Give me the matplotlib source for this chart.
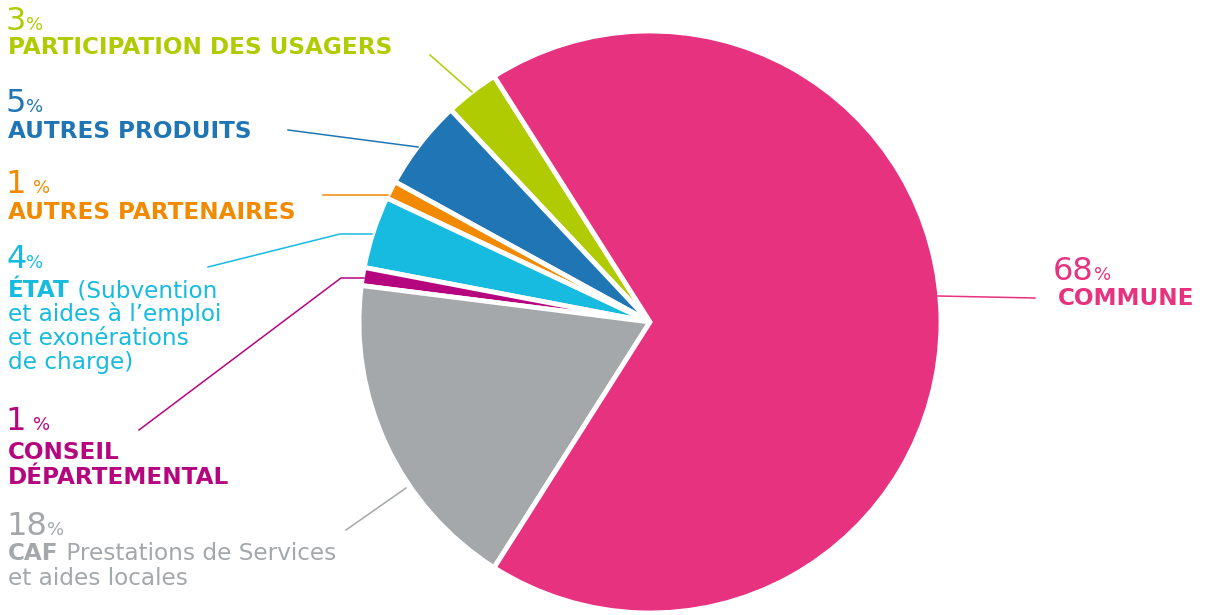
import matplotlib
matplotlib.use("Agg")
import matplotlib.pyplot as plt

# shares of the budget (percent), in drawing order counter-clockwise
categories = ["PARTICIPATION DES USAGERS", "AUTRES PRODUITS", "AUTRES PARTENAIRES",
              "ÉTAT", "CONSEIL DÉPARTEMENTAL", "CAF", "COMMUNE"]
values = [3, 5, 1, 4, 1, 18, 68]
colors = ["#b1cb02", "#2076b5", "#f28a00", "#17bbdf", "#b5057f", "#a4a8ab", "#e7327f"]

W, H = 1215, 615
fig = plt.figure(figsize=(W / 100, H / 100), dpi=100)
ax = fig.add_axes([0, 0, 1, 1])

ax.pie(values, colors=colors, startangle=122.4, counterclock=True,
       radius=291, center=(650, H - 322),
       wedgeprops=dict(edgecolor="white", linewidth=3.5))
ax.set_xlim(0, W)
ax.set_ylim(0, H)
ax.set_aspect("equal")
ax.axis("off")

renderer = fig.canvas.get_renderer()
FONT = "DejaVu Sans"
SZ = 16.7


def rich(x, ytop, parts, color):
    # parts: list of (text, weight, size) drawn one after the other on the same baseline
    y = H - ytop
    for txt, weight, size in parts:
        t = ax.text(x, y, txt, color=color, fontsize=size, fontweight=weight,
                    family=FONT, va="baseline", ha="left")
        bb = t.get_window_extent(renderer)
        x = bb.x1


def pct(x, ytop, num, color):
    rich(x, ytop, [(num, "normal", 23), ("%", "normal", 13)], color)


def line(pts, color):
    xs = [p[0] for p in pts]
    ys = [H - p[1] for p in pts]
    ax.plot(xs, ys, color=color, lw=1.1)


# participation des usagers
pct(6, 30, str(values[0]), colors[0])
rich(8, 54, [(categories[0], "bold", SZ)], colors[0])
line([(430, 55), (472, 92)], colors[0])

# autres produits
pct(6, 112, str(values[1]), colors[1])
rich(8, 138, [(categories[1], "bold", SZ)], colors[1])
line([(288, 130), (418, 147)], colors[1])

# autres partenaires
pct(6, 193, str(values[2]) + "\u2009", colors[2])
rich(8, 219, [(categories[2], "bold", SZ)], colors[2])
line([(323, 195), (388, 195)], colors[2])

# etat
pct(6, 268, str(values[3]), colors[3])
rich(8, 297, [(categories[3], "bold", SZ), (" (Subvention", "normal", SZ)], colors[3])
rich(8, 321, [("et aides à l’emploi", "normal", SZ)], colors[3])
rich(8, 345, [("et exonérations", "normal", SZ)], colors[3])
rich(8, 369, [("de charge)", "normal", SZ)], colors[3])
line([(208, 267), (340, 234), (372, 234)], colors[3])

# conseil departemental
pct(6, 430, str(values[4]) + "\u2009", colors[4])
rich(8, 459, [("CONSEIL", "bold", SZ)], colors[4])
rich(8, 484, [("DÉPARTEMENTAL", "bold", SZ)], colors[4])
line([(139, 430), (341, 278), (364, 278)], colors[4])

# caf
pct(6, 535, str(values[5]), colors[5])
rich(8, 560, [(categories[5], "bold", SZ), (" Prestations de Services", "normal", SZ)], colors[5])
rich(8, 585, [("et aides locales", "normal", SZ)], colors[5])
line([(346, 530), (406, 488)], colors[5])

# commune
pct(1053, 280, str(values[6]), colors[6])
rich(1058, 305, [(categories[6], "bold", SZ)], colors[6])
line([(938, 296), (1035, 298)], colors[6])

fig.savefig("out.png", dpi=100)
